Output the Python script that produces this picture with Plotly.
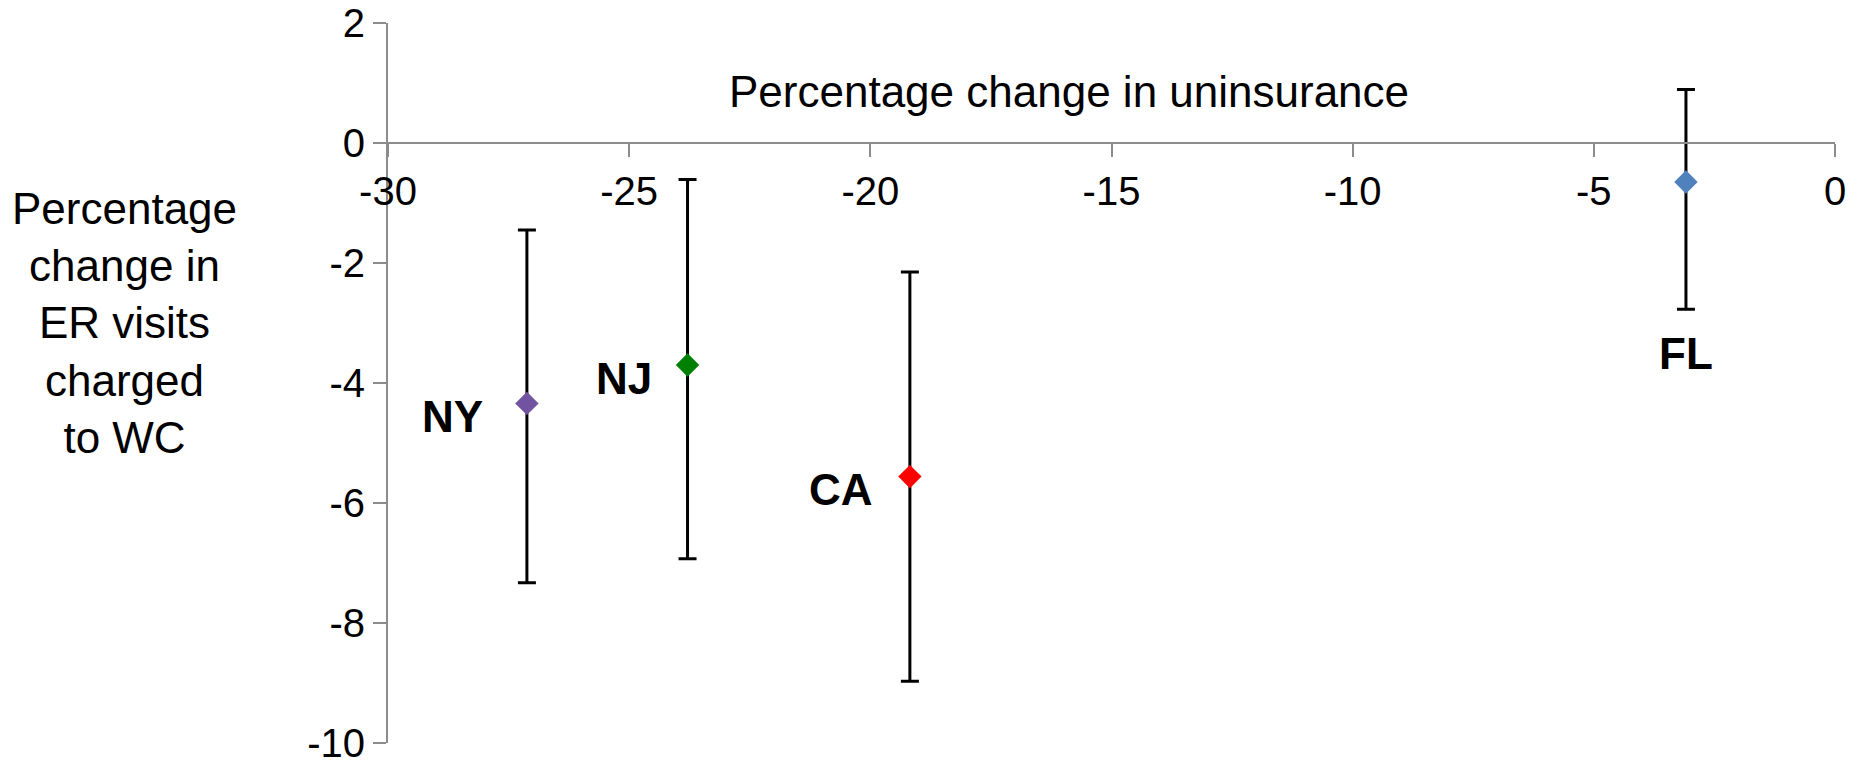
import plotly.graph_objects as go

# State-level estimates with 95% confidence intervals
states = ["NY", "NJ", "CA", "FL"]
uninsured_change = [-27.12, -23.79, -19.18, -3.09]
er_wc_change = [-4.34, -3.70, -5.56, -0.65]
ci_low = [-7.33, -6.93, -8.97, -2.77]
ci_high = [-1.45, -0.61, -2.15, 0.89]
marker_colors = ["#7153A1", "#008000", "#FF0000", "#4F81BD"]

x_ticks = [-30, -25, -20, -15, -10, -5, 0]
x_tick_labels = ["-30", "-25", "-20", "-15", "-10", "-5", "0"]
y_ticks = [2, 0, -2, -4, -6, -8, -10]
y_tick_labels = ["2", "0", "-2", "-4", "-6", "-8", "-10"]
x_range = [-30, 0]
y_range = [-10, 2]

# label offsets (pixels) relative to each marker
label_dx = [-74, -64, -69, 0]
label_dy = [-13, -13, -13, -171]

FONT = "Liberation Sans, Arial, sans-serif"
AXIS_GREY = "#8C8C8C"

fig = go.Figure()

for i, st in enumerate(states):
    fig.add_trace(go.Scatter(
        x=[uninsured_change[i]],
        y=[er_wc_change[i]],
        mode="markers",
        name=st,
        marker=dict(symbol="diamond", size=18, color=marker_colors[i]),
        error_y=dict(
            type="data",
            symmetric=False,
            array=[ci_high[i] - er_wc_change[i]],
            arrayminus=[er_wc_change[i] - ci_low[i]],
            color="black",
            thickness=3,
            width=9,
        ),
        showlegend=False,
        cliponaxis=False,
    ))
    fig.add_annotation(
        x=uninsured_change[i], y=er_wc_change[i],
        xref="x", yref="y",
        text=f"<b>{st}</b>",
        showarrow=False,
        xshift=label_dx[i], yshift=label_dy[i],
        xanchor="center", yanchor="middle",
        font=dict(family=FONT, size=44, color="black"),
    )

# horizontal axis crosses the vertical axis at y = 0
x_axis_pos = (0 - y_range[0]) / (y_range[1] - y_range[0])

fig.update_layout(
    width=1857, height=762,
    autosize=False,
    margin=dict(l=388, r=22, t=23, b=19, autoexpand=False),
    paper_bgcolor="white", plot_bgcolor="white",
    xaxis=dict(
        range=x_range, tickvals=x_ticks, ticktext=x_tick_labels,
        showgrid=False, zeroline=False, automargin=False,
        showline=True, linecolor=AXIS_GREY, linewidth=2,
        ticks="outside", ticklen=13, tickwidth=2, tickcolor=AXIS_GREY,
        tickfont=dict(family=FONT, size=40, color="black"),
        ticklabeloverflow="allow",
        anchor="free", position=x_axis_pos,
    ),
    yaxis=dict(
        range=y_range, tickvals=y_ticks, ticktext=y_tick_labels,
        showgrid=False, zeroline=False, automargin=False,
        showline=True, linecolor=AXIS_GREY, linewidth=2,
        ticks="outside", ticklen=13, tickwidth=2, tickcolor=AXIS_GREY,
        tickfont=dict(family=FONT, size=40, color="black"),
        ticklabeloverflow="allow",
    ),
)

fig.add_annotation(
    text="Percentage change in uninsurance",
    xref="paper", yref="paper", x=0.4706, y=0.9046,
    xanchor="center", yanchor="middle", showarrow=False,
    font=dict(family=FONT, size=44, color="black"),
)
fig.add_annotation(
    text="Percentage<br>change in<br>ER visits<br>charged<br>to WC",
    xref="paper", yref="paper", x=-0.1818, y=0.583,
    xanchor="center", yanchor="middle", showarrow=False, align="center",
    font=dict(family=FONT, size=44, color="black"),
)

fig.write_html("out.html")
